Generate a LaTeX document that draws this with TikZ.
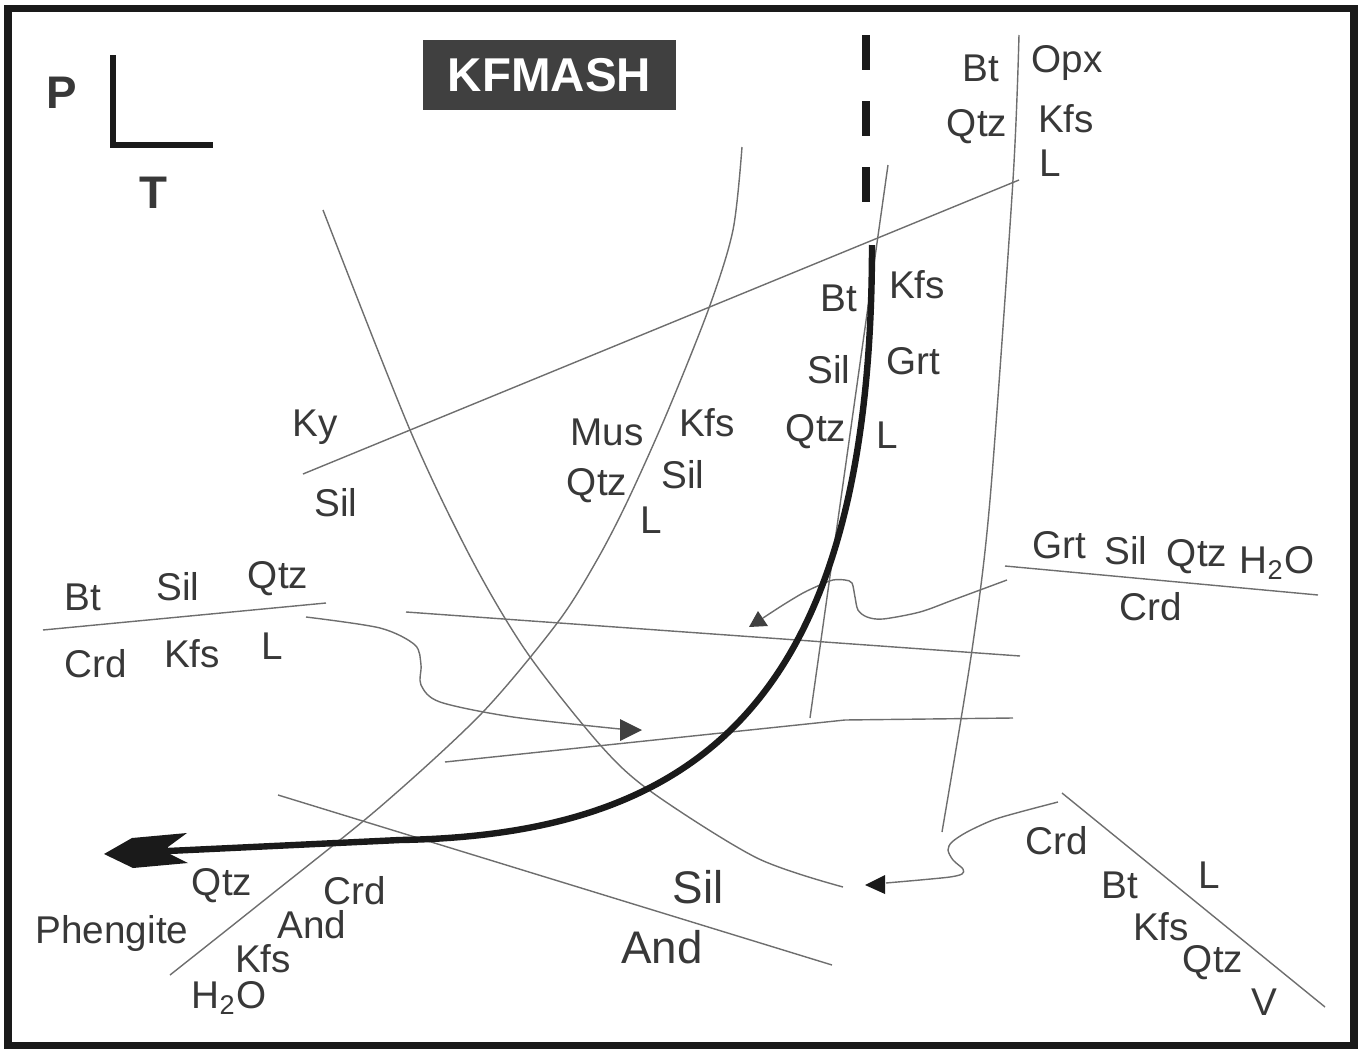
\documentclass[tikz,border=0pt]{standalone}
\usepackage{fontspec}
\setmainfont{Liberation Sans}

\definecolor{txtgray}{HTML}{383838}
\definecolor{linegray}{HTML}{6E6E6E}
\definecolor{pathblack}{HTML}{1A1A1A}
\definecolor{boxgray}{HTML}{404040}

\begin{document}
\begin{tikzpicture}[
    x=0.01cm, y=-0.01cm,
    phase/.style={text=txtgray, inner sep=0pt, font=\fontsize{11}{13}\selectfont},
    big_phase/.style={text=txtgray, inner sep=0pt, font=\fontsize{13}{15}\selectfont},
    axis_label/.style={text=txtgray, inner sep=0pt, font=\fontsize{13}{15}\selectfont\bfseries},
    thin_line/.style={linegray, line width=0.4pt},
    pt_path/.style={pathblack, line width=0.064cm},
    tip_fill/.style={fill=boxgray}
]
\useasboundingbox (0,0) rectangle (1362,1051);

% --- Frame ---
\draw[pathblack, line width=0.07cm] (8,8) rectangle (1354,1045);

% --- Axes and title ---
\draw[pt_path, line width=0.06cm] (113,55) -- (113,145) -- (213,145);
\node[axis_label] (pAxis) at (62,93) {P};
\node[axis_label] (tAxis) at (153,193) {T};
\node[fill=boxgray, text=white, inner sep=0pt, minimum width=2.53cm, minimum height=0.7cm,
      font=\fontsize{13.5}{16}\selectfont\bfseries] (title) at (549.5,75) {KFMASH};

% --- Reaction lines ---
% Ky = Sil
\draw[thin_line] (303,474) -- (1019,180);
% Ky/Sil - And
\draw[thin_line] plot[smooth] coordinates {(323,210) (410,430) (472,560) (528,654) (602,747) (653,793) (757,858) (843,887)};
% Mus + Qtz = Kfs + Sil + L
\draw[thin_line] plot[smooth] coordinates {(742,147) (733,230) (709,308) (667,413) (628,500) (597,560) (558,622) (482,713) (380,807) (267,898) (170,975)};
% Bt + Sil + Qtz = Grt + Kfs + L
\draw[thin_line] (888,165) -- (810,718);
% Bt + Qtz = Opx + Kfs + L
\draw[thin_line] plot[smooth] coordinates {(1019,35) (1013,180) (990,500) (972,650) (942,832)};
% Crd lines
\draw[thin_line] (406,612) -- (1020,656);
\draw[thin_line] (445,762) -- (845,720) -- (1013,718);
% Sil = And
\draw[thin_line] (278,795) -- (832,965);
% Side reactions
\draw[thin_line] (43,630) -- (326,603);
\draw[thin_line] (1005,566) -- (1318,595);
\draw[thin_line] (1062,793) -- (1325,1007);

% --- Wavy arrows ---
\draw[thin_line] plot[smooth] coordinates {(306,617) (380,628) (415,645) (421,665) (421,685) (440,702) (513,717) (620,729)};
\fill[tip_fill] (620,719) -- (642,730) -- (620,741) -- cycle;

\draw[thin_line] plot[smooth] coordinates {(1007,580) (953,600) (920,612) (883,619) (867,617) (858,610) (855,597) (852,583) (845,580) (833,580) (820,585) (803,593) (783,605) (763,618)};
\fill[tip_fill] (758,611) -- (768,626) -- (749,627) -- cycle;

\draw[thin_line] plot[smooth] coordinates {(1058,802) (1020,812) (993,820) (967,832) (952,842) (948,850) (953,860) (963,869) (962,874) (950,877) (920,880) (886,883)};
\fill[pathblack] (865,885) -- (885,875) -- (885,894) -- cycle;

% --- P-T path ---
\coordinate (ptStart) at (872,245);
\coordinate (ptBend) at (400,840);
\coordinate (ptEnd) at (168,851);
\draw[pt_path, line width=0.07cm, dash pattern=on 0.35cm off 0.31cm] (866,35) -- (866,205);
\draw[pt_path] (ptStart) .. controls (872,700) and (700,835) .. (ptBend) -- (ptEnd);
\fill[pathblack] (104,854) -- (132,838) -- (187,833) -- (168,847) -- (168,853) -- (188,863) -- (133,868) -- cycle;

% --- Labels: top right ---
\node[phase] (btA) at (981,68) {Bt};
\node[phase] (opxA) at (1067,63) {Opx};
\node[phase] (qtzA) at (977,127) {Qtz};
\node[phase] (kfsA) at (1066,119) {Kfs};
\node[phase] (lA) at (1050,163) {L};

% --- Labels: along path ---
\node[phase] (kfsB) at (917,285) {Kfs};
\node[phase] (btB) at (839,298) {Bt};
\node[phase] (grtB) at (913,361) {Grt};
\node[phase] (silB) at (829,370) {Sil};
\node[phase] (qtzB) at (816,432) {Qtz};
\node[phase] (lB) at (887,435) {L};

% --- Labels: middle ---
\node[phase] (ky) at (315,427) {Ky};
\node[phase] (silC) at (336,503) {Sil};
\node[phase] (mus) at (607,432) {Mus};
\node[phase] (kfsC) at (707,423) {Kfs};
\node[phase] (qtzC) at (597,486) {Qtz};
\node[phase] (silD) at (683,475) {Sil};
\node[phase] (lC) at (651,520) {L};

% --- Labels: left ---
\node[phase] (btD) at (83,597) {Bt};
\node[phase] (silE) at (178,587) {Sil};
\node[phase] (qtzD) at (278,579) {Qtz};
\node[phase] (crdD) at (96,664) {Crd};
\node[phase] (kfsD) at (192,654) {Kfs};
\node[phase] (lD) at (272,646) {L};

% --- Labels: right ---
\node[phase] (grtE) at (1059,545) {Grt};
\node[phase] (silF) at (1126,551) {Sil};
\node[phase] (qtzE) at (1197,557) {Qtz};
\node[phase] (waterE) at (1277,563) {H\textsubscript{2}O};
\node[phase] (crdE) at (1151,607) {Crd};

% --- Labels: bottom right ---
\node[phase] (crdF) at (1057,841) {Crd};
\node[phase] (lF) at (1209,875) {L};
\node[phase] (btF) at (1120,885) {Bt};
\node[phase] (kfsF) at (1161,927) {Kfs};
\node[phase] (qtzF) at (1213,963) {Qtz};
\node[phase] (vF) at (1264,1002) {V};

% --- Labels: bottom ---
\node[big_phase] (silG) at (698,887) {Sil};
\node[big_phase] (andG) at (662,947) {And};
\node[phase] (qtzH) at (222,886) {Qtz};
\node[phase] (crdH) at (355,891) {Crd};
\node[phase] (phengite) at (112,933) {Phengite};
\node[phase] (andH) at (312,925) {And};
\node[phase] (kfsH) at (263,959) {Kfs};
\node[phase] (waterH) at (229,998) {H\textsubscript{2}O};

\end{tikzpicture}
\end{document}
